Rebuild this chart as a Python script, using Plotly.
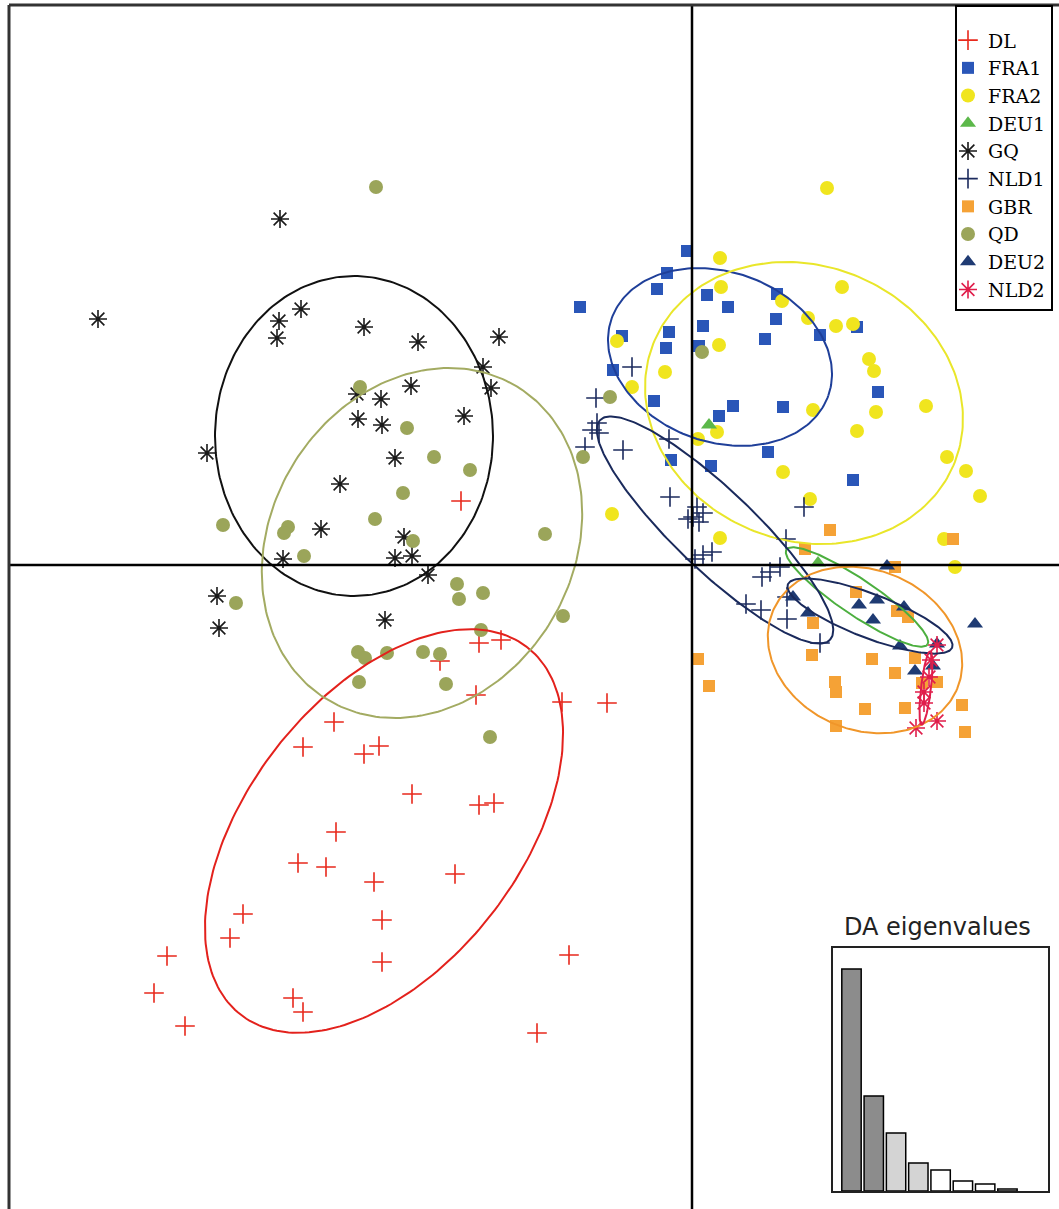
import numpy as np
import plotly.graph_objects as go

# ---------------- data (discriminant function scores) ----------------
groups = ["DL", "FRA1", "FRA2", "DEU1", "GQ", "NLD1", "GBR", "QD", "DEU2", "NLD2"]

dl_x = [-2.31, -2.13, -1.91, -2.52, -2.16, -1.30, -0.85, -3.58, -3.89, -3.28, -3.13, -2.80, -2.13, -1.98, -3.56,
        -3.94, -3.66, -3.18, -2.37, -4.49, -4.62, -3.10, -5.25, -3.10, -1.23, -5.38, -3.99, -3.89, -5.07, -1.55]
dl_y = [0.64, -0.78, -0.75, -0.96, -1.30, -1.37, -1.38, -1.57, -1.82, -1.89, -1.81, -2.29, -2.40, -2.38, -2.67,
        -2.98, -3.02, -3.17, -3.09, -3.49, -3.73, -3.55, -3.91, -3.97, -3.90, -4.28, -4.33, -4.47, -4.61, -4.68]

fra1_x = [-0.05, -0.25, -0.35, -1.12, 0.15, 0.36, 0.85, 0.84, 0.11, 0.73, -0.70, -0.23, -0.26, 0.07, -0.79,
          -0.38, 0.41, 0.27, 0.91, 1.28, 1.65, 1.86, 1.61, 0.76, 0.19, -0.21]
fra1_y = [3.14, 2.92, 2.76, 2.58, 2.70, 2.58, 2.71, 2.46, 2.39, 2.26, 2.29, 2.33, 2.17, 2.19, 1.95,
          1.64, 1.59, 1.49, 1.58, 2.30, 2.38, 1.73, 0.85, 1.13, 0.99, 1.05]

fra2_x = [1.35, 0.28, 0.29, 1.50, 0.90, 1.16, 1.44, 1.61, 1.77, 1.82, 1.84, 2.34, 1.65, 1.21, -0.75,
          0.27, -0.27, -0.60, 0.25, 0.06, 0.91, 1.18, -0.80, 0.28, 2.55, 2.74, 2.88, 2.52, 2.63]
fra2_y = [3.77, 3.07, 2.78, 2.78, 2.64, 2.47, 2.39, 2.41, 2.06, 1.94, 1.53, 1.59, 1.34, 1.55, 2.24,
          2.20, 1.93, 1.78, 1.33, 1.26, 0.93, 0.66, 0.51, 0.27, 1.08, 0.94, 0.69, 0.26, -0.02]

deu1_x = [0.17, 1.26]
deu1_y = [1.40, 0.02]

gq_x = [-4.12, -5.94, -4.13, -4.15, -3.91, -3.28, -2.74, -1.93, -2.09, -2.01, -2.81, -3.35, -3.11, -3.34,
        -3.10, -2.28, -2.97, -4.85, -3.52, -3.71, -2.88, -4.09, -2.97, -2.80, -2.64, -4.75, -4.73, -3.07]
gq_y = [3.46, 2.46, 2.44, 2.27, 2.56, 2.38, 2.23, 2.28, 1.98, 1.77, 1.79, 1.71, 1.66, 1.46,
        1.40, 1.49, 1.07, 1.12, 0.81, 0.36, 0.28, 0.06, 0.07, 0.09, -0.10, -0.31, -0.63, -0.55]

nld1_x = [-0.60, -0.96, -0.95, -1.00, -0.93, -1.07, -0.69, -0.23, -0.22, 0.05, 0.01, -0.04, 0.11, 0.07,
          0.20, 0.11, 0.03, 1.12, 0.94, 0.88, 0.78, 0.70, 0.54, 0.69, 0.95, 0.95, 1.28]
nld1_y = [1.98, 1.67, 1.42, 1.35, 1.32, 1.18, 1.15, 1.26, 0.68, 0.58, 0.48, 0.46, 0.52, 0.43,
          0.13, 0.10, 0.06, 0.58, 0.26, -0.02, -0.07, -0.12, -0.39, -0.45, -0.32, -0.54, -0.78]

gbr_x = [0.06, 0.17, 1.38, 2.61, 1.13, 2.03, 1.64, 2.05, 2.16, 1.21, 1.20, 1.80, 2.03, 1.43, 1.44, 2.23,
         2.45, 1.73, 2.13, 2.70, 1.44, 2.73, 2.30]
gbr_y = [-0.94, -1.21, 0.35, 0.26, 0.16, -0.02, -0.27, -0.46, -0.52, -0.58, -0.90, -0.94, -1.08, -1.17,
         -1.27, -0.93, -1.17, -1.44, -1.43, -1.40, -1.61, -1.67, -1.18]

qd_x = [-3.16, -3.32, -2.85, -2.58, -2.22, -2.89, -4.69, -4.04, -4.08, -3.17, -3.88, -2.79, -1.47, -1.09,
        -0.82, 0.10, -4.56, -2.35, -2.33, -2.09, -1.29, -2.11, -3.34, -3.27, -3.05, -2.69, -2.52, -3.33,
        -2.46, -2.02]
qd_y = [3.78, 1.78, 1.37, 1.08, 0.95, 0.72, 0.40, 0.38, 0.32, 0.46, 0.09, 0.24, 0.31, 1.08,
        1.68, 2.13, -0.38, -0.19, -0.34, -0.28, -0.51, -0.65, -0.87, -0.93, -0.88, -0.87, -0.89, -1.17,
        -1.19, -1.72]

deu2_x = [1.95, 1.01, 1.16, 1.67, 1.85, 2.12, 1.81, 2.83, 2.08, 2.45, 2.23, 2.41]
deu2_y = [-0.01, -0.32, -0.48, -0.40, -0.35, -0.42, -0.55, -0.59, -0.81, -0.79, -1.06, -1.01]

nld2_x = [2.45, 2.39, 2.37, 2.32, 2.32, 2.24, 2.45]
nld2_y = [-0.80, -0.95, -1.12, -1.27, -1.38, -1.63, -1.56]

# inertia ellipses: centre, semi-axes, orientation (deg)
ell_group = ["DL", "FRA1", "FRA2", "DEU1", "GQ", "NLD1", "GBR", "QD", "DEU2", "NLD2"]
ell_cx = [-3.08, 0.28, 1.12, 1.65, -3.38, 0.23, 1.73, -2.70, 1.78, 2.34]
ell_cy = [-2.66, 2.08, 1.62, -0.32, 1.29, 0.35, -0.85, 0.22, -0.51, -1.23]
ell_a = [2.33, 1.15, 1.62, 0.85, 1.60, 1.59, 1.00, 1.83, 0.88, 0.37]
ell_b = [1.36, 0.85, 1.375, 0.18, 1.39, 0.40, 0.80, 1.51, 0.22, 0.05]
ell_angle = [52.0, -19.7, -21.4, -34.0, 90.0, -43.7, -23.0, 58.8, -21.0, 83.3]

# DA eigenvalues (relative)
eig_rank = [1, 2, 3, 4, 5, 6, 7, 8]
eig_val = [100.0, 42.8, 26.1, 12.6, 9.5, 4.5, 3.2, 0.9]

# ---------------- styles ----------------
style = {
    "DL":   dict(color="#e8291c", symbol="cross-thin", size=14, lw=1.6),
    "FRA1": dict(color="#2a56b8", symbol="square", size=12, lw=0),
    "FRA2": dict(color="#f0e51e", symbol="circle", size=14, lw=0),
    "DEU1": dict(color="#5cb84a", symbol="triangle-up", size=14, lw=0),
    "GQ":   dict(color="#1a1a1a", symbol="asterisk-open", size=15, lw=1.6),
    "NLD1": dict(color="#1c2b5e", symbol="cross-thin", size=14, lw=1.6),
    "GBR":  dict(color="#f5a236", symbol="square", size=12, lw=0),
    "QD":   dict(color="#9ba55a", symbol="circle", size=14, lw=0),
    "DEU2": dict(color="#1f3b73", symbol="triangle-up", size=14, lw=0),
    "NLD2": dict(color="#e01e4b", symbol="asterisk-open", size=15, lw=1.6),
}
ell_color = {
    "DL": "#e3211c", "FRA1": "#1f3f99", "FRA2": "#e9e62a", "DEU1": "#4caf3f", "GQ": "#111111",
    "NLD1": "#1a2a5c", "GBR": "#f0962a", "QD": "#a3ab62", "DEU2": "#1a2a5c", "NLD2": "#e01e4b",
}

data = {
    "DL": (dl_x, dl_y), "FRA1": (fra1_x, fra1_y), "FRA2": (fra2_x, fra2_y), "DEU1": (deu1_x, deu1_y),
    "GQ": (gq_x, gq_y), "NLD1": (nld1_x, nld1_y), "GBR": (gbr_x, gbr_y), "QD": (qd_x, qd_y),
    "DEU2": (deu2_x, deu2_y), "NLD2": (nld2_x, nld2_y),
}

fig = go.Figure()

for g in groups:
    s = style[g]
    x, y = data[g]
    marker = dict(color=s["color"], symbol=s["symbol"], size=s["size"])
    if s["lw"]:
        marker["line"] = dict(color=s["color"], width=s["lw"])
    else:
        marker["line"] = dict(width=0)
    fig.add_trace(go.Scatter(x=x, y=y, mode="markers", name=g, marker=marker,
                             xaxis="x", yaxis="y"))

t = np.linspace(0, 2 * np.pi, 241)
for g, cx, cy, a, b, ang in zip(ell_group, ell_cx, ell_cy, ell_a, ell_b, ell_angle):
    th = np.deg2rad(ang)
    ex = cx + a * np.cos(t) * np.cos(th) - b * np.sin(t) * np.sin(th)
    ey = cy + a * np.cos(t) * np.sin(th) + b * np.sin(t) * np.cos(th)
    fig.add_trace(go.Scatter(x=ex, y=ey, mode="lines", line=dict(color=ell_color[g], width=2),
                             showlegend=False, hoverinfo="skip", xaxis="x", yaxis="y"))

bar_colors = ["#8c8c8c", "#8c8c8c", "#d4d4d4", "#d4d4d4", "white", "white", "white", "white"]
fig.add_trace(go.Bar(x=eig_rank, y=eig_val, width=0.87, marker=dict(color=bar_colors,
                     line=dict(color="black", width=1.5)), showlegend=False, xaxis="x2", yaxis="y2"))

W, H = 1059, 1209
ML, MT = 9, 5
pw, ph = W - ML, H - MT

def fx(px):
    return (px - ML) / pw

def fy(py):
    return (H - py) / ph

fig.update_layout(
    width=W, height=H,
    margin=dict(l=ML, r=0, t=MT, b=0, pad=0),
    paper_bgcolor="white", plot_bgcolor="white",
    showlegend=True,
    xaxis=dict(range=[-6.83, 3.67], domain=[0, 1], showgrid=False, showticklabels=False, ticks="",
               zeroline=False, showline=False, fixedrange=True),
    yaxis=dict(range=[-6.44, 5.60], domain=[0, 1], showgrid=False, showticklabels=False, ticks="",
               zeroline=False, showline=False, fixedrange=True),
    xaxis2=dict(domain=[fx(833), fx(1048)], anchor="y2", range=[0.17, 9.82], showgrid=False,
                showticklabels=False, ticks="", zeroline=False, showline=True, mirror=True,
                linecolor="#222", linewidth=2),
    yaxis2=dict(domain=[fy(1191), fy(948)], anchor="x2", range=[0, 109.5], showgrid=False,
                showticklabels=False, ticks="", zeroline=False, showline=True, mirror=True,
                linecolor="#222", linewidth=2),
    legend=dict(x=fx(955), xanchor="left", y=1, yanchor="top", bgcolor="white",
                bordercolor="black", borderwidth=2, tracegroupgap=0, indentation=-9,
                title=dict(text=" ", font=dict(size=11)),
                font=dict(family="DejaVu Serif", size=19, color="black")),
    shapes=[
        # x = 0 and y = 0 axes, drawn over the points
        dict(type="line", xref="x", yref="paper", x0=0, x1=0, y0=0, y1=1,
             line=dict(color="black", width=2.5), layer="above"),
        dict(type="line", xref="paper", yref="y", x0=0, x1=1, y0=0, y1=0,
             line=dict(color="black", width=2.5), layer="above"),
        # frame (left and top)
        dict(type="line", xref="paper", yref="paper", x0=0, x1=0, y0=0, y1=1,
             line=dict(color="#333", width=3)),
        dict(type="line", xref="paper", yref="paper", x0=0, x1=1, y0=1, y1=1,
             line=dict(color="#333", width=3)),
    ],
    annotations=[
        dict(text="DA eigenvalues", xref="paper", yref="paper", x=fx(937), y=fy(927),
             xanchor="center", yanchor="middle", showarrow=False,
             font=dict(family="DejaVu Sans", size=24, color="#222")),
    ],
)

fig.write_html("out.html", config={"displayModeBar": False},
               post_script="document.body.style.margin='0px';")
